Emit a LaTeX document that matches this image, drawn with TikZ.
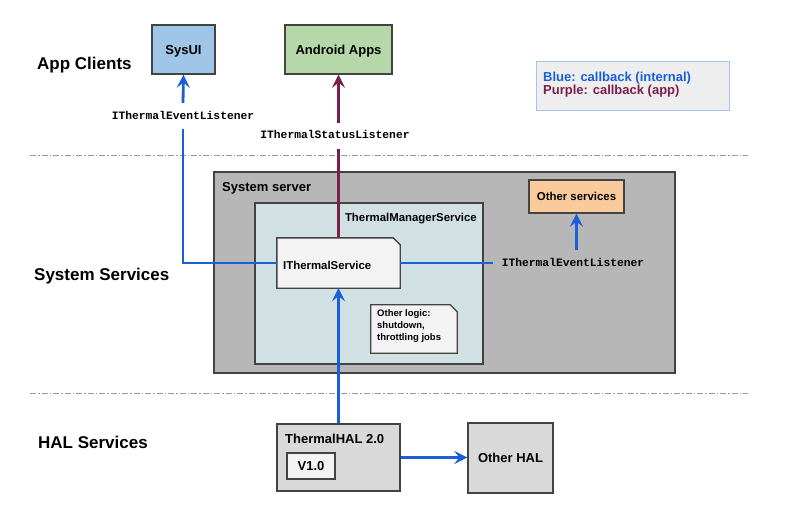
\documentclass[tikz,border=0pt]{standalone}
\usepackage{fontspec}
\setmainfont{Liberation Sans}
\setmonofont{Liberation Mono}
\usetikzlibrary{arrows.meta}
\definecolor{cblue}{HTML}{1A5FD8}
\definecolor{cpurple}{HTML}{7A1F4E}
\definecolor{bordergray}{HTML}{434343}
\definecolor{sysblue}{HTML}{9FC5E8}
\definecolor{appgreen}{HTML}{B6D7A8}
\definecolor{servergray}{HTML}{B7B7B7}
\definecolor{tmscyan}{HTML}{D0E0E3}
\definecolor{notefill}{HTML}{F3F3F3}
\definecolor{otherorange}{HTML}{F9CB9C}
\definecolor{halgray}{HTML}{D9D9D9}
\definecolor{legendfill}{HTML}{EEEEEE}
\definecolor{legendborder}{HTML}{A4C2F4}
\definecolor{sepgray}{HTML}{999999}
\begin{document}
\begin{tikzpicture}[x=1pt,y=-1pt,
  box/.style={draw=bordergray, line width=1.4pt, inner sep=0pt,
    font=\bfseries\fontsize{13}{15}\selectfont, text height=9.3pt, text depth=0pt},
  plainbox/.style={inner sep=0pt},
  lbl/.style={inner sep=0pt, font=\bfseries\fontsize{13}{15}\selectfont},
  lblsmall/.style={inner sep=0pt, font=\bfseries\fontsize{11.4}{13}\selectfont},
  sect/.style={inner sep=0pt, font=\bfseries\fontsize{17}{20}\selectfont},
  mono/.style={inner xsep=9pt, inner ysep=9pt, text height=7pt, text depth=1pt,
    font=\ttfamily\bfseries\fontsize{11.3}{13}\selectfont},
  cb/.style={draw=cblue, line width=2.8pt},
  cp/.style={draw=cpurple, line width=2.8pt},
  tip/.style={-{Stealth[length=13pt,width=13pt,inset=5pt]}},
  sepline/.style={draw=sepgray, line width=0.8pt, dash pattern=on 6pt off 2pt on 1.5pt off 2pt}
]
\useasboundingbox (0,0) rectangle (796,511);

% separators
\coordinate (s1a) at (30,155);
\coordinate (s1b) at (748,155);
\coordinate (s2a) at (30,393);
\coordinate (s2b) at (748,393);
\draw[sepline] (s1a) -- (s1b);
\draw[sepline] (s2a) -- (s2b);

% section labels
\node[sect, anchor=base west] (lclients) at (37,70) {App Clients};
\node[sect, anchor=base west] (lservices) at (34,280) {System Services};
\node[sect, anchor=base west] (lhal) at (38,448) {HAL Services};

% app clients
\node[box, fill=sysblue, minimum width=63pt, minimum height=49pt] (sysui) at (183.5,49.5) {SysUI};
\node[box, fill=appgreen, minimum width=107pt, minimum height=49pt] (apps) at (338.5,49.5) {Android Apps};

% legend
\node[draw=legendborder, line width=0.9pt, fill=legendfill, minimum width=193pt, minimum height=49pt] (legend) at (632.5,85.5) {};
\node[lbl, anchor=base west, text=cblue] (legblue) at (543,81.5) {Blue: callback (internal)};
\node[lbl, anchor=base west, text=cpurple] (legpurple) at (543,94.5) {Purple: callback (app)};

% system server
\node[box, fill=servergray, minimum width=461pt, minimum height=201pt] (server) at (444.5,272.5) {};
\node[lbl, anchor=base west] (serverlbl) at (222,191.7) {System server};
\node[box, fill=tmscyan, minimum width=228pt, minimum height=161pt] (tms) at (369,283.5) {};
\node[lblsmall, anchor=base east] (tmslbl) at (477,221) {ThermalManagerService};

% IThermalService (chamfered)
\node[plainbox, minimum width=123pt, minimum height=50pt] (its) at (338.5,263) {};
\draw[draw=bordergray, line width=1.4pt, fill=notefill]
  (its.south west) -- (its.north west) -- ([xshift=-7pt]its.north east)
  -- ([yshift=-7pt]its.north east) -- (its.south east) -- cycle;
\node[lblsmall, anchor=base west] (itslbl) at (283,269) {IThermalService};

% Other logic note
\node[plainbox, minimum width=86pt, minimum height=48pt] (logic) at (414,329) {};
\draw[draw=bordergray, line width=1.2pt, fill=notefill]
  (logic.south west) -- (logic.north west) -- ([xshift=-7pt]logic.north east)
  -- ([yshift=-7pt]logic.north east) -- (logic.south east) -- cycle;
\node[inner sep=0pt, anchor=north west, align=left, font=\bfseries\fontsize{9.5}{12}\selectfont] (logiclbl) at (377,309.5) {Other logic:\\shutdown,\\throttling jobs};

% Other services
\node[box, fill=otherorange, minimum width=95pt, minimum height=33pt,
  font=\bfseries\fontsize{11.4}{13}\selectfont, text height=8.2pt] (other) at (576.5,196.5) {Other services};

% HAL
\node[box, fill=halgray, minimum width=123pt, minimum height=67pt] (hal) at (338.5,457.5) {};
\node[lbl, anchor=base west] (hallbl) at (285,443.5) {ThermalHAL 2.0};
\node[box, fill=notefill, line width=1.2pt, minimum width=48pt, minimum height=26pt] (v10) at (311,466) {V1.0};
\node[box, fill=halgray, minimum width=85pt, minimum height=70pt] (ohal) at (510.5,458) {Other HAL};

% listener labels
\node[mono] (lbl1) at (183,116) {IThermalEventListener};
\node[mono] (lbl2) at (335,136) {IThermalStatusListener};
\node[mono] (lbl3) at (573,263) {IThermalEventListener};

% connectors
\draw[cb] (its.west) -| (lbl1.south);
\draw[cb, tip] (lbl1.north) -- (sysui.south);
\draw[cp] (its.north) -- (lbl2.south -| its.north);
\draw[cp, tip] (lbl2.north -| its.north) -- (apps.south);
\draw[cb] (its.east) -- (lbl3.west);
\draw[cb, tip] (lbl3.north -| other.south) -- (other.south);
\draw[cb, tip] (hal.north) -- (its.south);
\draw[cb, tip] (hal.east) -- (hal.east -| ohal.west);
\end{tikzpicture}
\end{document}
